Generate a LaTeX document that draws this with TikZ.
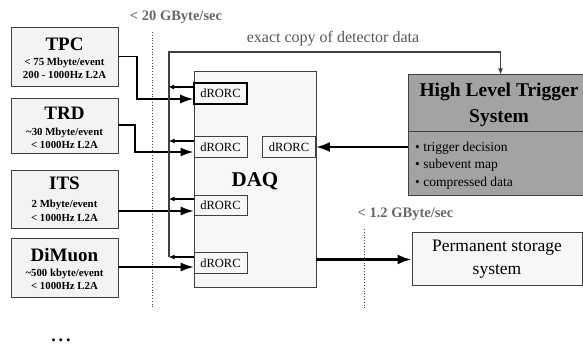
\documentclass[tikz,border=0pt]{standalone}
\usepackage{fontspec}
\setmainfont{Liberation Serif}[BoldFont={Liberation Serif Bold}, ItalicFont={Liberation Serif Italic}]
\usetikzlibrary{arrows.meta}
\definecolor{boxfill}{HTML}{F3F3F3}
\definecolor{daqfill}{HTML}{F7F7F7}
\definecolor{hltfill}{HTML}{A3A3A3}
\definecolor{edge}{HTML}{404040}
\definecolor{labelgray}{HTML}{666666}
\begin{document}
\begin{tikzpicture}[x=1pt,y=-1pt,
  detbox/.style={draw=edge, fill=boxfill, line width=0.9pt, minimum width=107pt, inner sep=0pt},
  dettitle/.style={anchor=base, font=\fontsize{19}{19}\selectfont\bfseries, inner sep=0pt},
  detsub/.style={anchor=base, font=\fontsize{10.8}{12}\selectfont\bfseries, inner sep=0pt},
  rorc/.style={draw=edge, fill=daqfill, line width=0.8pt, minimum width=53pt, minimum height=20.5pt, inner sep=0pt, font=\fontsize{12.5}{13}\selectfont},
  inarrow/.style={line width=1.3pt, -{Latex[length=13pt,width=9pt]}},
  retarrow/.style={line width=2pt, -{Latex[length=6pt,width=5pt]}},
  bigarrow/.style={line width=2.4pt, -{Latex[length=14pt,width=10pt]}},
  copyline/.style={draw=edge, line width=1.3pt, -{Latex[length=6pt,width=5pt]}},
  rate/.style={anchor=base, text=labelgray, font=\fontsize{14.5}{15}\selectfont\bfseries, inner sep=0pt},
  limit/.style={draw=edge, dotted, line width=0.8pt},
  bullet/.style={anchor=base west, font=\fontsize{13.5}{14}\selectfont, inner sep=0pt}
]
\clip (0,0) rectangle (583,344);

% rate labels and limits
\node[rate] (r20) at (176,21) {< 20 GByte/sec};
\node[rate] (r12) at (405.5,218) {< 1.2 GByte/sec};
\draw[limit] (152,32) -- (152,308);
\draw[limit] (364,229) -- (364,308);

% detectors
\node[detbox, minimum height=59pt] (tpc) at (64.5,56.5) {};
\node[dettitle] (tpct) at (64.5,50.7) {TPC};
\node[detsub] (tpcs1) at (64.5,65.5) {< 75 Mbyte/event};
\node[detsub] (tpcs2) at (64.5,79) {200 - 1000Hz L2A};

\node[detbox, minimum height=55pt] (trd) at (64.5,125.5) {};
\node[dettitle] (trdt) at (64.5,120) {TRD};
\node[detsub] (trds1) at (64.5,136) {\textasciitilde30 Mbyte/event};
\node[detsub] (trds2) at (64.5,149) {< 1000Hz L2A};

\node[detbox, minimum height=58pt] (its) at (64.5,199) {};
\node[dettitle] (itst) at (64.5,190) {ITS};
\node[detsub] (itss1) at (64.5,208) {2 Mbyte/event};
\node[detsub] (itss2) at (64.5,222) {< 1000Hz L2A};

\node[detbox, minimum height=59pt] (dim) at (64.5,267.5) {};
\node[dettitle] (dimt) at (64.5,262) {DiMuon};
\node[detsub] (dims1) at (64.5,277) {\textasciitilde500 kbyte/event};
\node[detsub] (dims2) at (64.5,290) {< 1000Hz L2A};

\node[anchor=base, inner sep=0pt, font=\fontsize{18}{18}\selectfont\bfseries] (more) at (61,341.5) {.\,.\,.};

% DAQ
\node[draw=edge, fill=daqfill, line width=0.9pt, minimum width=122pt, minimum height=216pt, inner sep=0pt] (daq) at (255,179) {};
\node[anchor=base, inner sep=0pt, font=\fontsize{21}{21}\selectfont\bfseries] (daqt) at (255,187) {DAQ};

\node[rorc, draw=black, line width=1.6pt] (tpcd) at (220.5,93.5) {dRORC};
\node[rorc] (trdd) at (220.5,147) {dRORC};
\node[rorc] (hltd) at (289,147) {dRORC};
\node[rorc] (itsd) at (220.5,205.5) {dRORC};
\node[rorc] (dimd) at (220.5,263) {dRORC};

% HLT
\node[draw=edge, fill=hltfill, line width=1pt, minimum width=184pt, minimum height=121pt, inner sep=0pt] (hlt) at (500.5,135.5) {};
\draw[edge, line width=1pt] (hlt.west |- 0,132) -- (hlt.east |- 0,132);
\node[anchor=base, inner sep=0pt, font=\fontsize{19.5}{20}\selectfont\bfseries] (hlt1) at (499,97) {High Level Trigger};
\node[anchor=base, inner sep=0pt, font=\fontsize{19.5}{20}\selectfont\bfseries] (hlt2) at (499,123) {System};
\node[bullet] (b1) at (415,151.5) {• trigger decision};
\node[bullet] (b2) at (415,169) {• subevent map};
\node[bullet] (b3) at (415,187) {• compressed data};

% storage
\node[draw=edge, fill=daqfill, line width=1pt, minimum width=170pt, minimum height=53pt, inner sep=0pt, align=center, font=\fontsize{17.5}{23}\selectfont] (stor) at (497,259.5) {Permanent storage\\system};

% copy label
\node[anchor=base, inner sep=0pt, text=labelgray!85!black, font=\fontsize{16}{16}\selectfont] (copy) at (333,43) {exact copy of detector data};

% inputs
\draw[inarrow] (tpc.east) -| (137,99) -- ([yshift=-5.5pt]tpcd.west);
\draw[inarrow, line width=2pt] (trd.east) -| (135,152) -- ([yshift=-5pt]trdd.west);
\draw[inarrow] (its.east |- 0,211) -- ([yshift=-5.5pt]itsd.west);
\draw[inarrow] (dim.east |- 0,267) -- ([yshift=-4pt]dimd.west);

% returns
\draw[retarrow] ([yshift=6.5pt]tpcd.west) -- ++(-25,0);
\draw[retarrow] ([yshift=6pt]trdd.west) -- ++(-25,0);
\draw[retarrow] ([yshift=6.5pt]itsd.west) -- ++(-25,0);
\draw[retarrow] ([yshift=6pt]dimd.west) -- ++(-25,0);

% copy loop
\draw[copyline] (169,257) -- (169,52) -| (hlt.north);

% HLT decision and storage
\draw[bigarrow] (hlt.west |- hltd.east) -- (hltd.east);
\draw[bigarrow] (daq.east |- stor.west) -- (stor.west);
\end{tikzpicture}
\end{document}
